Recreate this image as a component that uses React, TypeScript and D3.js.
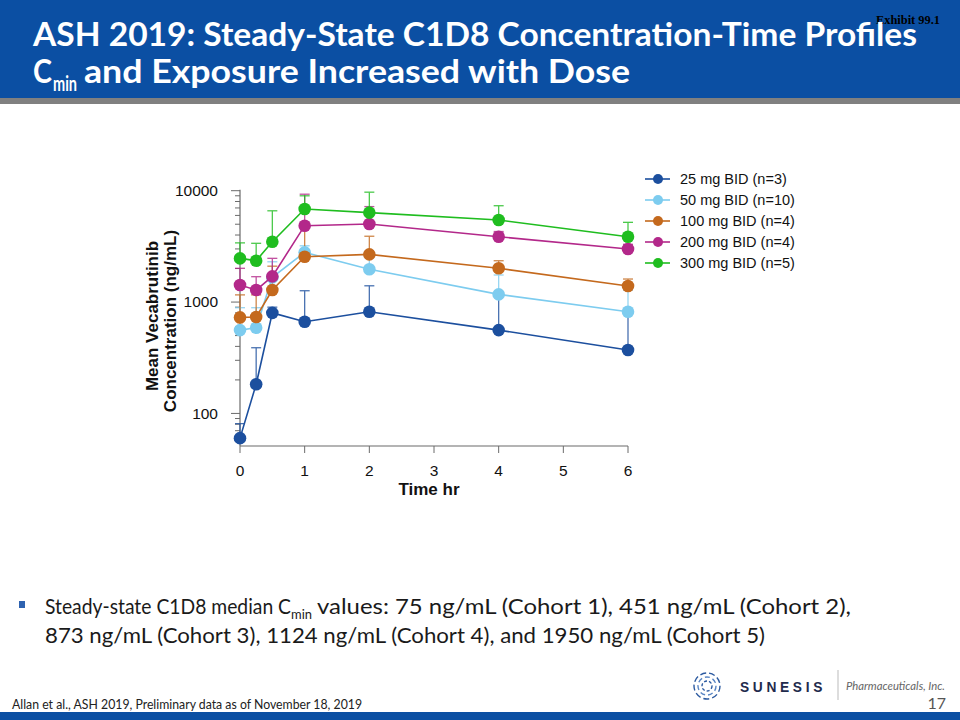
import React from "react";
import * as d3 from "d3";

const times = [0, 0.25, 0.5, 1, 2, 4, 6];
const seriesNames = ["25 mg BID (n=3)", "50 mg BID (n=10)", "100 mg BID (n=4)", "200 mg BID (n=4)", "300 mg BID (n=5)"];
const seriesColors = ["#1c4f9e", "#7dccef", "#c4691d", "#b3288a", "#1fbd1f"];
const mean25 = [60, 183, 800, 665, 818, 560, 371];
const upper25 = [81, 389, 900, 1264, 1400, 1150, 800];
const mean50 = [560, 588, 1667, 2795, 1968, 1172, 818];
const upper50 = [890, 890, 2300, 3200, 2550, 1750, 1280];
const mean100 = [728, 735, 1282, 2553, 2681, 2009, 1393];
const upper100 = [1160, 1160, 2100, 4800, 3900, 2350, 1610];
const mean200 = [1422, 1282, 1700, 4852, 5020, 3864, 2994];
const upper200 = [2010, 1690, 2470, 9300, 7200, 4300, 3300];
const mean300 = [2467, 2353, 3483, 6846, 6360, 5455, 3864];
const upper300 = [3400, 3370, 6600, 9000, 9700, 7330, 5200];
const xTicks = [0, 1, 2, 3, 4, 5, 6];
const yMajor = [100, 1000, 10000];

const means = [mean25, mean50, mean100, mean200, mean300];
const uppers = [upper25, upper50, upper100, upper200, upper300];

const ARIAL = "'Liberation Sans', Arial, sans-serif";
const CAL = "Lato, 'Open Sans', sans-serif";

export default function App() {
  const x = d3.scaleLinear().domain([0, 6]).range([240, 628]);
  const y = d3.scaleLog().domain([51, 10000]).range([446, 190.7]);
  const line = d3
    .line<[number, number]>()
    .x((d) => x(d[0]))
    .y((d) => y(d[1]));
  const yTicks = y.ticks();
  const isMajor = (v: number) => Math.abs(Math.log10(v) - Math.round(Math.log10(v))) < 1e-9;
  const axisColor = "#6b6b6b";

  return (
    <svg width={960} height={720} style={{ position: "absolute", left: 0, top: 0 }} xmlns="http://www.w3.org/2000/svg">
      <rect x={0} y={0} width={960} height={720} fill="#ffffff" />
      {/* header */}
      <rect x={0} y={0} width={960} height={98} fill="#0b4fa3" />
      <rect x={0} y={98} width={960} height={6} fill="#808080" />
      <text x={876} y={24} fontFamily="'Liberation Serif', serif" fontWeight="bold" fontSize={12} fill="#000" textLength={64} lengthAdjust="spacingAndGlyphs">Exhibit 99.1</text>
      <text x={33} y={46} fontFamily={CAL} fontWeight="bold" fontSize={33} fill="#fff" textLength={884} lengthAdjust="spacingAndGlyphs">
        ASH 2019: Steady-State C1D8 Concentration-Time Profiles
      </text>
      <text x={33} y={83} fontFamily={CAL} fontWeight="bold" fontSize={33} fill="#fff" textLength={19} lengthAdjust="spacingAndGlyphs">C</text>
      <text x={53} y={91} fontFamily={CAL} fontWeight="bold" fontSize={21} fill="#fff" textLength={24} lengthAdjust="spacingAndGlyphs">min</text>
      <text x={84} y={83} fontFamily={CAL} fontWeight="bold" fontSize={33} fill="#fff" textLength={546} lengthAdjust="spacingAndGlyphs">
        and Exposure Increased with Dose
      </text>

      {/* chart axes */}
      <g>
        <line x1={x(0)} x2={x(0)} y1={y(10000) - 1} y2={y.range()[0]} stroke={axisColor} strokeWidth={1.2} />
        <line x1={x(0)} x2={x(6)} y1={y.range()[0]} y2={y.range()[0]} stroke={axisColor} strokeWidth={1.2} />
        {yTicks.map((t, i) => (
          <line key={"yt" + i} x1={x(0)} x2={x(0) - (isMajor(t) ? 9 : 5)} y1={y(t)} y2={y(t)} stroke={axisColor} strokeWidth={1} />
        ))}
        {yMajor.map((t) => (
          <text key={"yl" + t} x={218} y={y(t)} dy="0.35em" textAnchor="end" fontFamily={ARIAL} fontSize={15.5} fill="#111">
            {t}
          </text>
        ))}
        {xTicks.map((t) => (
          <g key={"xt" + t}>
            <line x1={x(t)} x2={x(t)} y1={y.range()[0]} y2={y.range()[0] + 7} stroke={axisColor} strokeWidth={1} />
            <text x={x(t)} y={476} textAnchor="middle" fontFamily={ARIAL} fontSize={15.5} fill="#111">
              {t}
            </text>
          </g>
        ))}
        <text x={429} y={495} textAnchor="middle" fontFamily={ARIAL} fontWeight="bold" fontSize={17} fill="#111">
          Time hr
        </text>
        <text transform="translate(158,316) rotate(-90)" textAnchor="middle" fontFamily={ARIAL} fontWeight="bold" fontSize={17} fill="#111">
          Mean Vecabrutinib
        </text>
        <text transform="translate(176,321) rotate(-90)" textAnchor="middle" fontFamily={ARIAL} fontWeight="bold" fontSize={17} fill="#111">
          Concentration (ng/mL)
        </text>
      </g>

      {/* error bars */}
      {means.map((m, si) => (
        <g key={"eb" + si} stroke={seriesColors[si]} strokeWidth={1.3} opacity={0.8}>
          {times.map((t, i) => (
            <g key={i}>
              <line x1={x(t)} x2={x(t)} y1={y(m[i])} y2={y(uppers[si][i])} />
              <line x1={x(t) - 5} x2={x(t) + 5} y1={y(uppers[si][i])} y2={y(uppers[si][i])} />
            </g>
          ))}
        </g>
      ))}
      {/* lines and markers */}
      {means.map((m, si) => (
        <g key={"s" + si}>
          <path d={line(times.map((t, i) => [t, m[i]] as [number, number])) || ""} fill="none" stroke={seriesColors[si]} strokeWidth={1.6} />
          {times.map((t, i) => (
            <circle key={i} cx={x(t)} cy={y(m[i])} r={6.3} fill={seriesColors[si]} />
          ))}
        </g>
      ))}

      {/* legend */}
      {seriesNames.map((n, i) => {
        const ly = 179 + i * 21;
        return (
          <g key={"lg" + i}>
            <line x1={645} x2={670} y1={ly} y2={ly} stroke={seriesColors[i]} strokeWidth={1.6} />
            <circle cx={658} cy={ly} r={5} fill={seriesColors[i]} />
            <text x={680} y={ly} dy="0.35em" fontFamily={ARIAL} fontSize={14.5} fill="#111">
              {n}
            </text>
          </g>
        );
      })}

      {/* bullet text */}
      <rect x={19} y={601} width={6} height={7} fill="#2e62b0" />
      <text x={45} y={614} fontFamily={CAL} fontSize={21} fill="#1a1a1a" textLength={246} lengthAdjust="spacingAndGlyphs">
        Steady-state C1D8 median C
      </text>
      <text x={291} y={619} fontFamily={CAL} fontSize={13} fill="#1a1a1a" textLength={21} lengthAdjust="spacingAndGlyphs">min</text>
      <text x={317} y={614} fontFamily={CAL} fontSize={21} fill="#1a1a1a" textLength={534} lengthAdjust="spacingAndGlyphs">
        values: 75 ng/mL (Cohort 1), 451 ng/mL (Cohort 2),
      </text>
      <text x={45} y={643} fontFamily={CAL} fontSize={21} fill="#1a1a1a" textLength={720} lengthAdjust="spacingAndGlyphs">
        873 ng/mL (Cohort 3), 1124 ng/mL (Cohort 4), and 1950 ng/mL (Cohort 5)
      </text>

      {/* footer */}
      <text x={12} y={709} fontFamily={CAL} fontSize={12.5} fill="#222" textLength={350} lengthAdjust="spacingAndGlyphs">
        Allan et al., ASH 2019, Preliminary data as of November  18, 2019
      </text>
      <text x={946} y={709} textAnchor="end" fontFamily={CAL} fontSize={16} fill="#555">17</text>
      <rect x={0} y={712} width={960} height={8} fill="#0b4fa3" />

      {/* logo */}
      <g transform="translate(707,686)" fill="none" stroke="#2c5aa0" strokeWidth={1.4}>
        <circle r={13} strokeDasharray="6 3" />
        <circle r={9} strokeDasharray="5 3" stroke="#5a86c4" />
        <circle r={5} strokeDasharray="3 2" />
      </g>
      <text x={740} y={692} fontFamily={ARIAL} fontWeight="bold" fontSize={15} fill="#1f2b4d" letterSpacing={4} textLength={86} lengthAdjust="spacingAndGlyphs">SUNESIS</text>
      <line x1={838} x2={838} y1={670} y2={700} stroke="#bbbbbb" strokeWidth={1} />
      <text x={846} y={690} fontFamily={CAL} fontStyle="italic" fontSize={12} fill="#666" textLength={99} lengthAdjust="spacingAndGlyphs">Pharmaceuticals, Inc.</text>
    </svg>
  );
}
